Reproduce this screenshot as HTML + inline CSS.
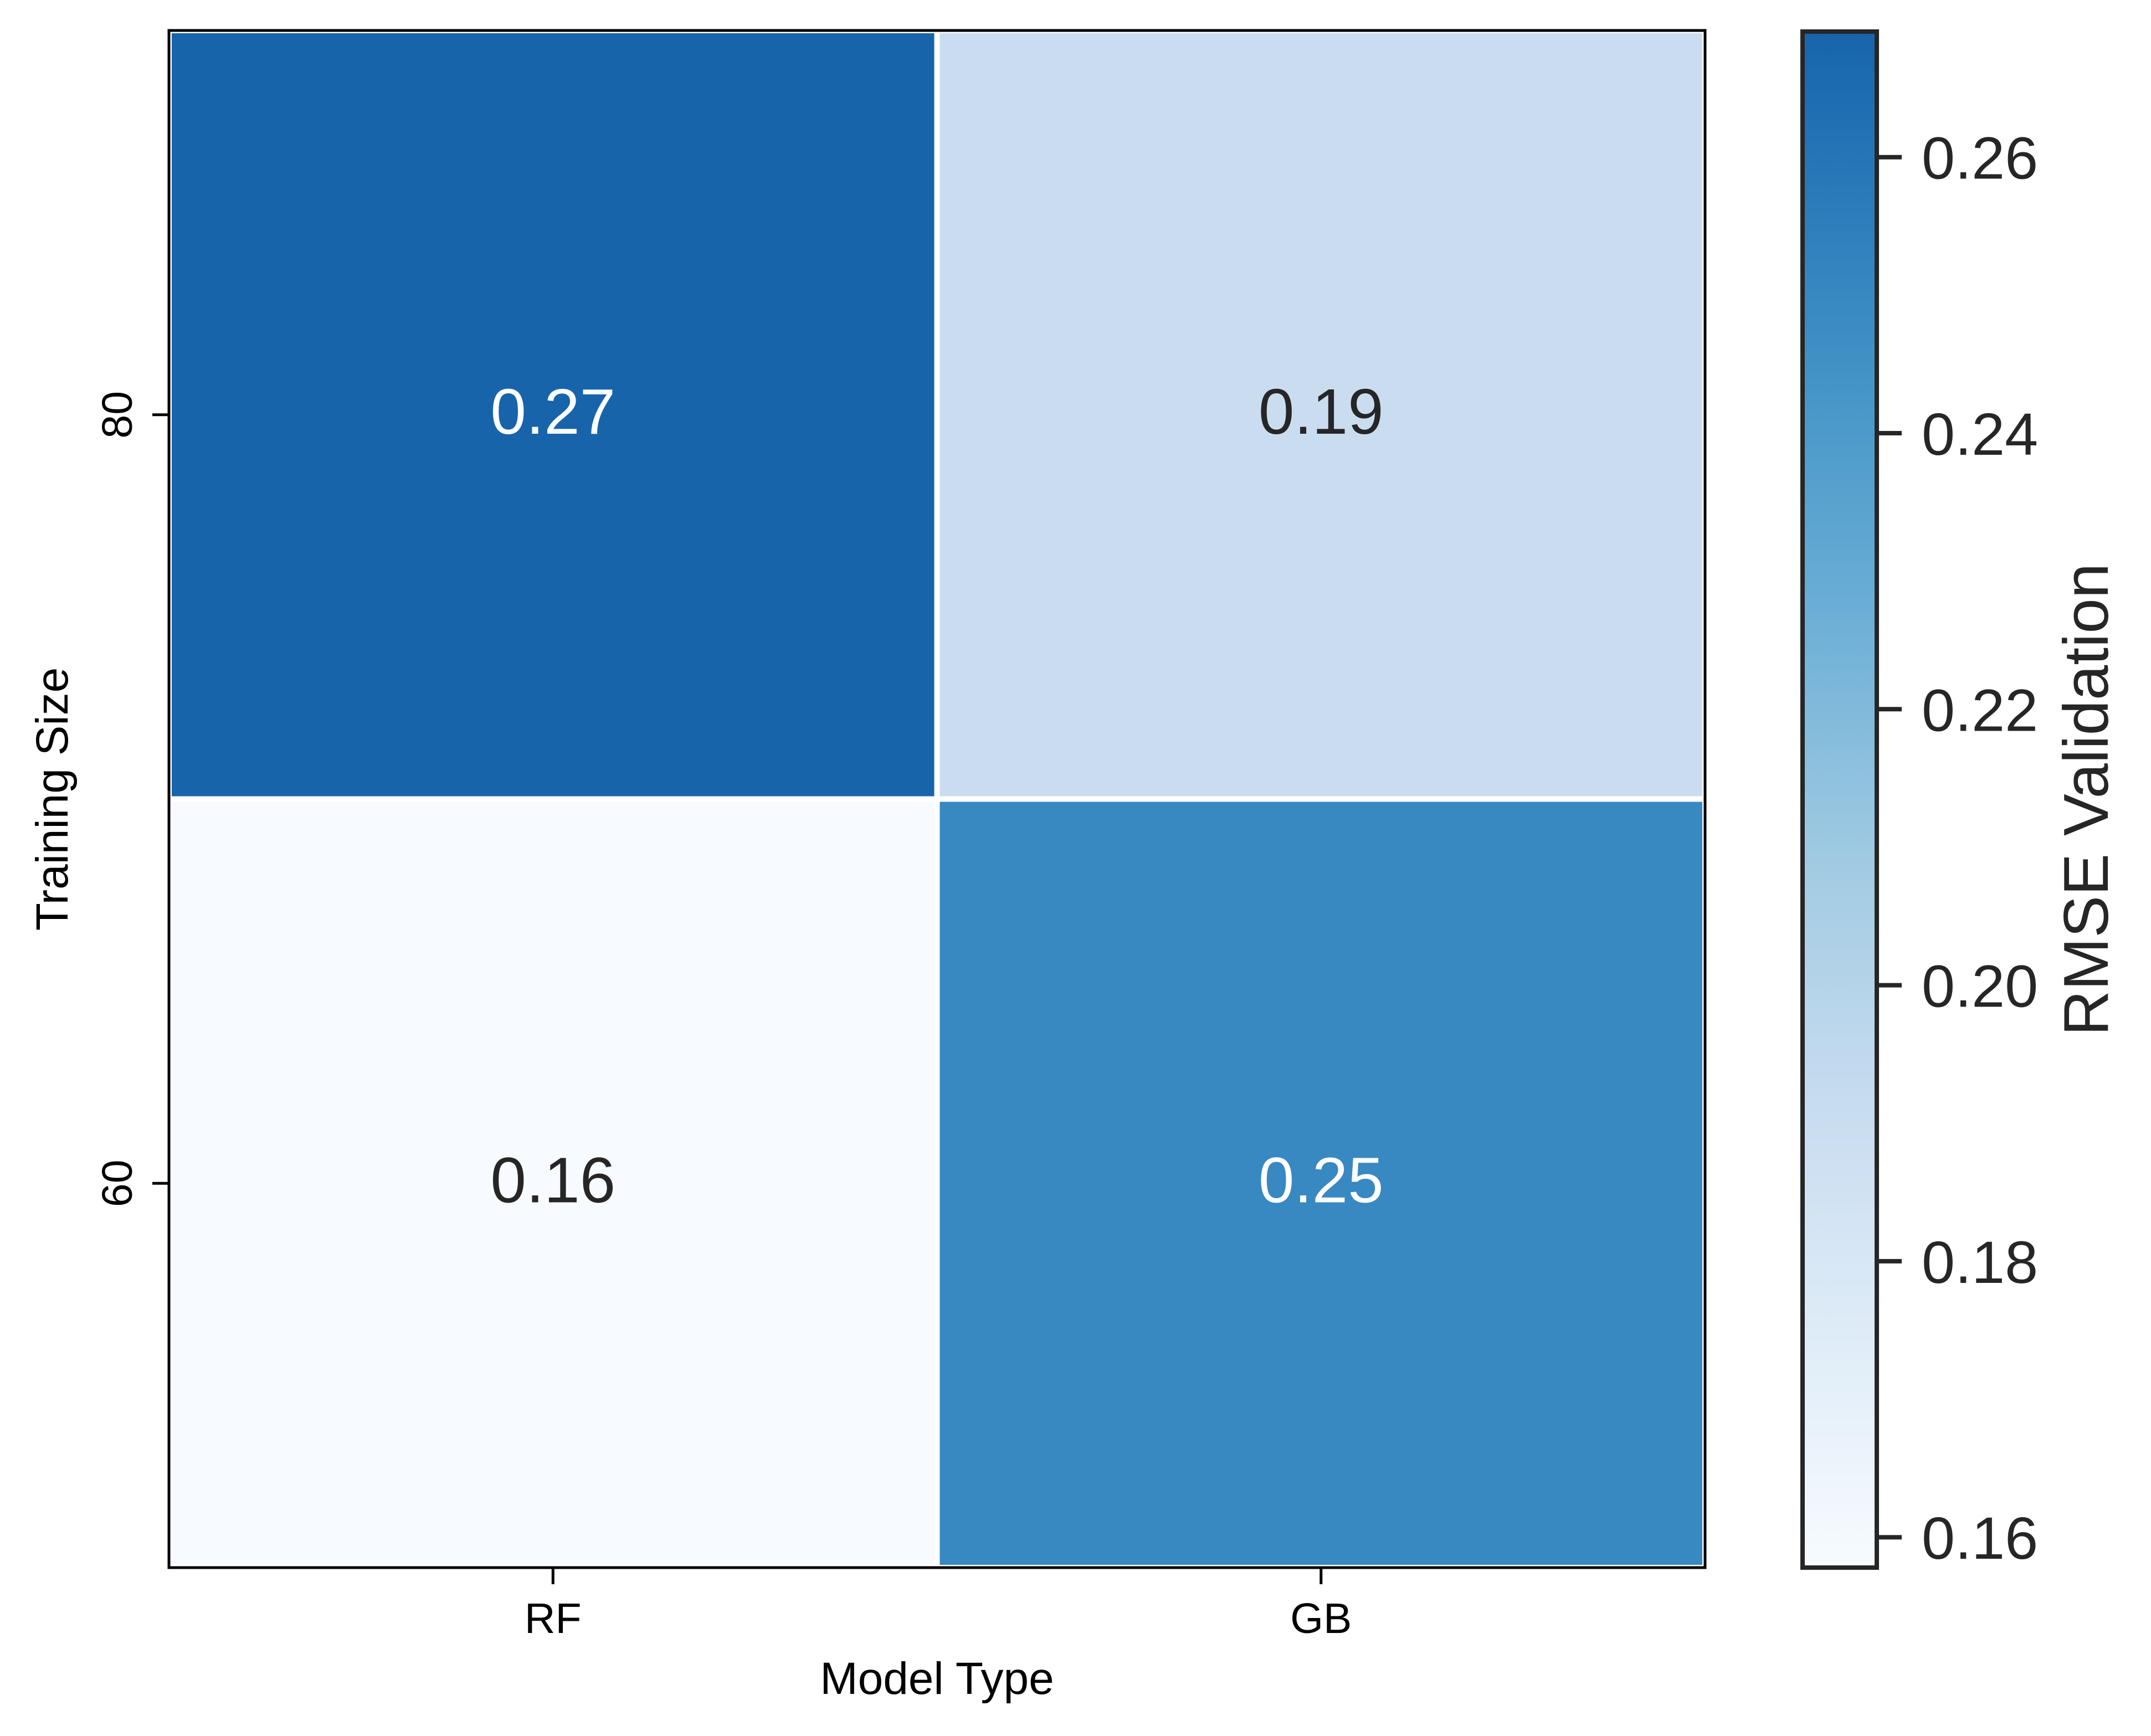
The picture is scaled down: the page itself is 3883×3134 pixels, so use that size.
<!DOCTYPE html>
<html><head><meta charset="utf-8"><style>
html,body{margin:0;padding:0;background:#fff;}
svg{display:block;font-family:"Liberation Sans",Arial,sans-serif;}
</style></head><body>
<svg id="chart" width="3883" height="3134" viewBox="0 0 3883 3134">
<defs>
<linearGradient id="cbgrad" x1="0" y1="1" x2="0" y2="0"></linearGradient>
</defs>
<g id="cells"></g>
<g id="axes"></g>
<g id="cbar"></g>
</svg>
<script>
const xCategories = ["RF", "GB"];
const yCategories = ["80", "60"];
const rowValues80 = [0.269, 0.19];
const rowValues60 = [0.158, 0.25];
const cbTicks = [0.16, 0.18, 0.20, 0.22, 0.24, 0.26];
const vmin = 0.1578, vmax = 0.2691;

const NS = "http://www.w3.org/2000/svg";
function mk(tag, attrs, parent){const e=document.createElementNS(NS,tag);for(const k in attrs)e.setAttribute(k,attrs[k]);parent.appendChild(e);return e;}
const blues=["#f7fbff","#deebf7","#c6dbef","#9ecae1","#6baed6","#4292c6","#2171b5","#08519c","#08306b"];
function hex(c){return [1,3,5].map(i=>parseInt(c.substr(i,2),16));}
function cmap(t){t=Math.max(0,Math.min(1,t))*0.8;const p=t*8;const i=Math.min(7,Math.floor(p));const f=p-i;const a=hex(blues[i]),b=hex(blues[i+1]);return "rgb("+a.map((v,k)=>Math.round(v+(b[k]-v)*f)).join(",")+")";}
function norm(v){return (v-vmin)/(vmax-vmin);}

const L=305,R=3078,T=55,B=2830;
const cw=(R-L)/xCategories.length, ch=(B-T)/yCategories.length;
const xPos=i=>L+cw*(i+0.5), yPos=j=>T+ch*(j+0.5);
const rows=[rowValues80,rowValues60];
const cells=document.getElementById('cells');
rows.forEach((row,j)=>row.forEach((v,i)=>{
  const r=mk('rect',{x:L+cw*i,y:T+ch*j,width:cw,height:ch,fill:cmap(norm(v)),stroke:'#fff','stroke-width':10},cells);
  
  
  const t=mk('text',{x:xPos(i),y:yPos(j)+34,'text-anchor':'middle','font-size':116,fill:norm(v)>0.6?'#fff':'#262626'},cells);
  t.textContent=v.toFixed(2);
  
  
}));
const ax=document.getElementById('axes');
const fr=mk('rect',{x:L,y:T,width:R-L,height:B-T,fill:'none',stroke:'#000','stroke-width':5},ax);


xCategories.forEach((c,i)=>{
  mk('line',{x1:xPos(i),x2:xPos(i),y1:B,y2:B+30,stroke:'#000','stroke-width':5},ax);
  const t=mk('text',{x:xPos(i),y:2948,'text-anchor':'middle','font-size':77,fill:'#000'},ax);
  t.textContent=c;
  
  
});
yCategories.forEach((c,j)=>{
  mk('line',{x1:L-30,x2:L,y1:yPos(j),y2:yPos(j),stroke:'#000','stroke-width':5},ax);
  const t=mk('text',{x:238,y:yPos(j),'text-anchor':'middle','font-size':77,fill:'#000',transform:'rotate(-90 238 '+yPos(j)+')'},ax);
  t.textContent=c;
  
  
});
const xt=mk('text',{x:(L+R)/2,y:3058,'text-anchor':'middle','font-size':82,fill:'#000'},ax);
xt.textContent='Model Type';


const yt=mk('text',{x:122,y:(T+B)/2,'text-anchor':'middle','font-size':82,fill:'#000',transform:'rotate(-90 122 '+(T+B)/2+')'},ax);
yt.textContent='Training Size';



// colorbar
const grad=document.getElementById('cbgrad');
for(let k=0;k<=20;k++){mk('stop',{offset:(k/20),'stop-color':cmap(k/20)},grad);}
const cb=document.getElementById('cbar');
const CL=3254,CR=3388,CT=57,CB=2830;
const cy=v=>CB-(v-vmin)/(vmax-vmin)*(CB-CT);
mk('rect',{x:CL,y:CT,width:CR-CL,height:CB-CT,fill:'url(#cbgrad)',stroke:'#262626','stroke-width':8},cb);
cbTicks.forEach(v=>{
  mk('line',{x1:CR,x2:CR+45,y1:cy(v),y2:cy(v),stroke:'#262626','stroke-width':8},cb);
  const t=mk('text',{x:3469,y:cy(v)+39,'font-size':108,fill:'#262626'},cb);
  t.textContent=v.toFixed(2);
  
  
});
const ct=mk('text',{x:3805,y:(CT+CB)/2,'text-anchor':'middle','font-size':114,fill:'#262626',transform:'rotate(-90 3805 '+(CT+CB)/2+')'},cb);
ct.textContent='RMSE Validation';


</script>
</body></html>
